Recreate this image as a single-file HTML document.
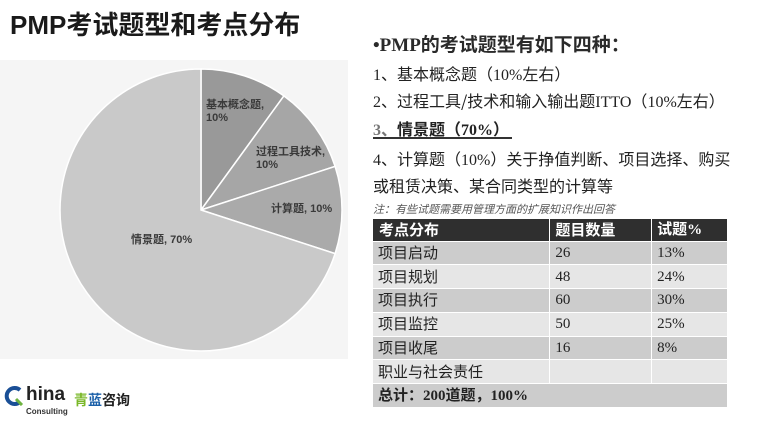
<!DOCTYPE html>
<html><head><meta charset="utf-8">
<style>
*{margin:0;padding:0;box-sizing:border-box}
body{width:764px;height:421px;background:#fff;position:relative;overflow:hidden;font-family:"Liberation Sans","Noto Sans CJK SC",sans-serif;color:#222}
.abs{position:absolute;white-space:nowrap}
.title{left:10px;top:10px;font-size:26px;font-weight:bold;color:#1a1a1a;line-height:30px}
.r{left:373px;font-size:16px;line-height:20px;color:#222;font-family:"Liberation Serif","Noto Sans CJK SC",serif}
.r .c{font-family:"Noto Sans CJK SC",sans-serif}
.lbl{font-size:11px;font-weight:bold;color:#3a3a3a;line-height:13px;font-family:"Liberation Sans","Noto Sans CJK SC",sans-serif}
table{position:absolute;left:372px;top:219px;width:356px;border-collapse:collapse;font-family:"Liberation Serif","Noto Sans CJK SC",serif}
td{height:23.8px;font-size:15px;padding:0 0 0 5px;color:#222;border:1.5px solid #fff;line-height:20px;vertical-align:middle}
tr.h td{background:#2f2f2f;color:#fff;font-weight:bold;height:22px;border-top:none}
tr.d td{background:#cccccc}
tr.l td{background:#e6e6e6}
td.cj{font-family:"Noto Sans CJK SC",sans-serif}
</style></head><body>
<div class="abs title">PMP考试题型和考点分布</div>

<svg class="abs" style="left:0;top:0" width="360" height="370" viewBox="0 0 360 370">
<rect x="0" y="60" width="348" height="299" fill="#f5f5f5"/>
<path d="M201,210 L201,69 A141,141 0 0 1 283.9,95.9 Z" fill="#999999" stroke="#fff" stroke-width="1.5"/>
<path d="M201,210 L283.9,95.9 A141,141 0 0 1 335.1,166.4 Z" fill="#a6a6a6" stroke="#fff" stroke-width="1.5"/>
<path d="M201,210 L335.1,166.4 A141,141 0 0 1 335.1,253.6 Z" fill="#aaaaaa" stroke="#fff" stroke-width="1.5"/>
<path d="M201,210 L335.1,253.6 A141,141 0 1 1 201,69 Z" fill="#c9c9c9" stroke="#fff" stroke-width="1.5"/>
</svg>
<div class="abs lbl" style="left:206px;top:99px">基本概念题,<br>10%</div>
<div class="abs lbl" style="left:256px;top:146px">过程工具技术,<br>10%</div>
<div class="abs lbl" style="left:271px;top:203px">计算题, 10%</div>
<div class="abs lbl" style="left:131px;top:234px">情景题, 70%</div>

<div class="abs r" style="top:33px;font-size:19px;line-height:22px;font-weight:bold;color:#2a2a2a">•PMP<span class="c">的考试题型有如下四种：</span></div>
<div class="abs r" style="top:63px">1<span class="c">、基本概念题（</span>10%<span class="c">左右）</span></div>
<div class="abs r" style="top:90px">2<span class="c">、过程工具/技术和输入输出题</span>ITTO<span class="c">（</span>10%<span class="c">左右）</span></div>
<div class="abs r" style="top:118px;font-weight:bold"><span style="color:#777">3</span><span class="c" style="color:#777">、</span><span class="c">情景题（</span>70%<span class="c">）</span></div>
<div class="abs" style="left:373px;top:137px;width:139px;height:1.5px;background:#333"></div>
<div class="abs r" style="top:148px">4<span class="c">、计算题（</span>10%<span class="c">）关于挣值判断、项目选择、购买</span></div>
<div class="abs r" style="top:175px"><span class="c">或租赁决策、某合同类型的计算等</span></div>
<div class="abs" style="left:373px;top:202px;font-size:11px;line-height:15px;font-style:italic;color:#555;font-family:'Noto Sans CJK SC',sans-serif">注：有些试题需要用管理方面的扩展知识作出回答</div>

<table>
<colgroup><col style="width:178px"><col style="width:102px"><col style="width:76px"></colgroup>
<tr class="h"><td class="cj" style="padding-left:6px">考点分布</td><td class="cj">题目数量</td><td><span class="cj">试题</span>%</td></tr>
<tr class="d"><td class="cj">项目启动</td><td>26</td><td>13%</td></tr>
<tr class="l"><td class="cj">项目规划</td><td>48</td><td>24%</td></tr>
<tr class="d"><td class="cj">项目执行</td><td>60</td><td>30%</td></tr>
<tr class="l"><td class="cj">项目监控</td><td>50</td><td>25%</td></tr>
<tr class="d"><td class="cj">项目收尾</td><td>16</td><td>8%</td></tr>
<tr class="l"><td class="cj">职业与社会责任</td><td></td><td></td></tr>
<tr class="d"><td colspan="3" style="font-weight:bold"><span class="cj">总计：</span>200<span class="cj">道题，</span>100%</td></tr>
</table>

<svg class="abs" style="left:3px;top:386px" width="22" height="20" viewBox="0 0 22 20">
<path d="M17,4 A8,8 0 1 0 17,16" fill="none" stroke="#1a4f96" stroke-width="4"/>
<path d="M13,13 L19,19" stroke="#6db33f" stroke-width="3"/>
</svg>
<div class="abs" style="left:26px;top:384px;font-size:19px;font-weight:bold;color:#222;line-height:22px">hina</div>
<div class="abs" style="left:26px;top:407px;font-size:8px;font-weight:bold;color:#333;line-height:10px">Consulting</div>
<div class="abs" style="left:74px;top:392px;font-size:14px;font-weight:bold;line-height:17px;font-family:'Noto Sans CJK SC',sans-serif"><span style="color:#7ab829">青</span><span style="color:#1a5fa8">蓝</span><span style="color:#222">咨询</span></div>
</body></html>
